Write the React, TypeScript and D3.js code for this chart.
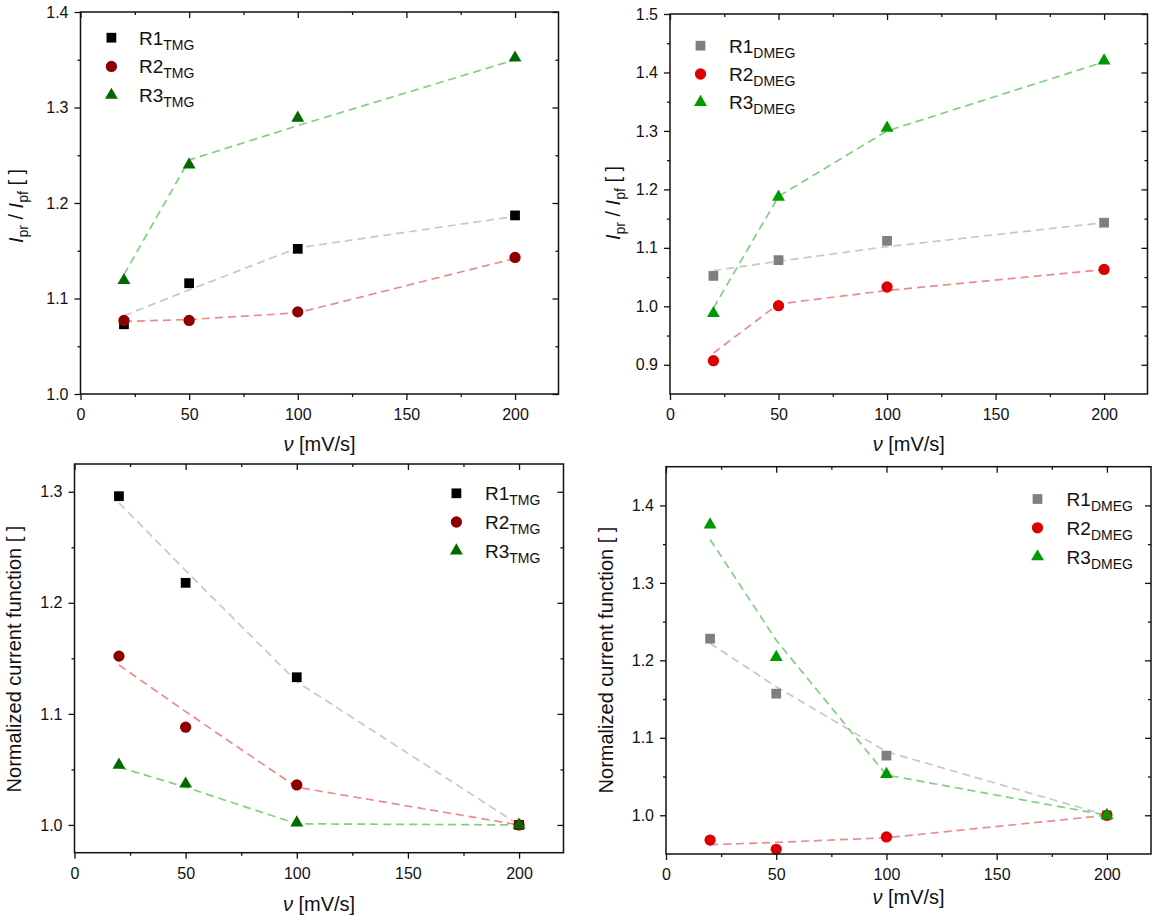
import { useEffect, useRef } from "react";
import * as d3 from "d3";

// Velocidades de varredura (mV/s)
const scanRates = [20, 50, 100, 200];
const xTicks = [0, 50, 100, 150, 200];
const xMinorTicks = [25, 75, 125, 175];

// Ipr / Ipf  - TMG
const ratioTmgR1 = [1.073, 1.116, 1.152, 1.187];
const ratioTmgR2 = [1.077, 1.077, 1.086, 1.143];
const ratioTmgR3 = [1.119, 1.240, 1.289, 1.352];
const ratioTmgFitR1 = [1.082, 1.109, 1.153, 1.186];
const ratioTmgFitR2 = [1.076, 1.078, 1.085, 1.142];
const ratioTmgFitR3 = [1.125, 1.245, 1.281, 1.350];

// Ipr / Ipf  - DMEG
const ratioDmegR1 = [1.052, 1.079, 1.112, 1.143];
const ratioDmegR2 = [0.907, 1.001, 1.033, 1.063];
const ratioDmegR3 = [0.988, 1.187, 1.305, 1.420];
const ratioDmegFitR1 = [1.061, 1.077, 1.102, 1.143];
const ratioDmegFitR2 = [0.920, 1.004, 1.027, 1.063];
const ratioDmegFitR3 = [0.997, 1.188, 1.300, 1.418];

// Normalized current function - TMG
const normTmgR1 = [1.296, 1.218, 1.133, 1.0];
const normTmgR2 = [1.152, 1.088, 1.036, 1.0];
const normTmgR3 = [1.054, 1.037, 1.002, 1.0];
const normTmgFitR1 = [1.290, 1.229, 1.129, 1.0];
const normTmgFitR2 = [1.144, 1.102, 1.034, 1.0];
const normTmgFitR3 = [1.052, 1.034, 1.001, 1.0];

// Normalized current function - DMEG
const normDmegR1 = [1.228, 1.157, 1.077, 1.0];
const normDmegR2 = [0.968, 0.956, 0.972, 1.0];
const normDmegR3 = [1.375, 1.204, 1.053, 1.0];
const normDmegFitR1 = [1.222, 1.166, 1.082, 1.0];
const normDmegFitR2 = [0.962, 0.965, 0.971, 1.0];
const normDmegFitR3 = [1.356, 1.226, 1.052, 1.0];

type Shape = "square" | "circle" | "triangle";

interface Serie {
  name: string;
  sub: string;
  values: number[];
  fit: number[];
  shape: Shape;
  color: string;
  lineColor: string;
}

interface Painel {
  left: number;
  right: number;
  top: number;
  bottom: number;
  yDomain: [number, number];
  yMajor: number[];
  yMinor: number[];
  yTitle: "ratio" | "norm";
  yTitleX: number;
  yTitleY: number;
  xTitleY: number;
  legendX: number;
  legendY: number;
  legendStep: number;
  legendTextX: number;
  series: Serie[];
}

const TMG_COLORS = ["#000000", "#8c0000", "#006a00"];
const DMEG_COLORS = ["#7f7f7f", "#dd0000", "#009a00"];
const LINE_COLORS = ["#c8c8c8", "#f08a8a", "#80d080"];
const SHAPES: Shape[] = ["square", "circle", "triangle"];

const makeSeries = (sub: string, colors: string[], vals: number[][], fits: number[][]): Serie[] =>
  vals.map((v, i) => ({
    name: `R${i + 1}`,
    sub,
    values: v,
    fit: fits[i],
    shape: SHAPES[i],
    color: colors[i],
    lineColor: LINE_COLORS[i]
  }));

const painels: Painel[] = [
  {
    left: 80.5, right: 558.5, top: 12, bottom: 394,
    yDomain: [1.0, 1.4],
    yMajor: [1.0, 1.1, 1.2, 1.3, 1.4],
    yMinor: [1.05, 1.15, 1.25, 1.35],
    yTitle: "ratio", yTitleX: 23, yTitleY: 206, xTitleY: 451,
    legendX: 111.4, legendY: 37.7, legendStep: 28.7, legendTextX: 139,
    series: makeSeries("TMG", TMG_COLORS,
      [ratioTmgR1, ratioTmgR2, ratioTmgR3],
      [ratioTmgFitR1, ratioTmgFitR2, ratioTmgFitR3])
  },
  {
    left: 670, right: 1147.5, top: 14, bottom: 394,
    yDomain: [0.85, 1.5],
    yMajor: [0.9, 1.0, 1.1, 1.2, 1.3, 1.4, 1.5],
    yMinor: [0.95, 1.05, 1.15, 1.25, 1.35, 1.45],
    yTitle: "ratio", yTitleX: 620, yTitleY: 203, xTitleY: 451,
    legendX: 700.5, legendY: 45.7, legendStep: 28.3, legendTextX: 729,
    series: makeSeries("DMEG", DMEG_COLORS,
      [ratioDmegR1, ratioDmegR2, ratioDmegR3],
      [ratioDmegFitR1, ratioDmegFitR2, ratioDmegFitR3])
  },
  {
    left: 74.5, right: 563.5, top: 464, bottom: 852.7,
    yDomain: [0.975, 1.325],
    yMajor: [1.0, 1.1, 1.2, 1.3],
    yMinor: [1.05, 1.15, 1.25],
    yTitle: "norm", yTitleX: 21, yTitleY: 659, xTitleY: 911,
    legendX: 456.4, legendY: 493.3, legendStep: 28.7, legendTextX: 485,
    series: makeSeries("TMG", TMG_COLORS,
      [normTmgR1, normTmgR2, normTmgR3],
      [normTmgFitR1, normTmgFitR2, normTmgFitR3])
  },
  {
    left: 666, right: 1151, top: 466.7, bottom: 854,
    yDomain: [0.95, 1.45],
    yMajor: [1.0, 1.1, 1.2, 1.3, 1.4],
    yMinor: [1.05, 1.15, 1.25, 1.35],
    yTitle: "norm", yTitleX: 613, yTitleY: 660, xTitleY: 904,
    legendX: 1037.5, legendY: 499, legendStep: 28.8, legendTextX: 1066.6,
    series: makeSeries("DMEG", DMEG_COLORS,
      [normDmegR1, normDmegR2, normDmegR3],
      [normDmegFitR1, normDmegFitR2, normDmegFitR3])
  }
];

const FONT = "'Liberation Sans', Arial, Helvetica, sans-serif";
const WIDTH = 1157;
const HEIGHT = 921;

const symbolFor = (shape: Shape) => {
  if (shape === "square") return d3.symbol().type(d3.symbolSquare).size(95)();
  if (shape === "circle") return d3.symbol().type(d3.symbolCircle).size(100)();
  return d3.symbol().type(d3.symbolTriangle).size(72)();
};

const App = () => {
  const svgRef = useRef<SVGSVGElement>(null);

  useEffect(() => {
    if (!svgRef.current) return;
    const svg = d3.select(svgRef.current);
    svg.selectAll("*").remove();

    svg.append("rect").attr("width", WIDTH).attr("height", HEIGHT).attr("fill", "#fff");

    painels.forEach((p) => {
      const x = d3.scaleLinear().domain([0, 220]).range([p.left, p.right]);
      const y = d3.scaleLinear().domain(p.yDomain).range([p.bottom, p.top]);
      const g = svg.append("g");

      // linhas tracejadas
      const line = d3
        .line<number>()
        .x((_, i) => x(scanRates[i]))
        .y((d) => y(d));

      p.series.forEach((s) => {
        g.append("path")
          .datum(s.fit)
          .attr("fill", "none")
          .attr("stroke", s.lineColor)
          .attr("stroke-width", 1.7)
          .attr("stroke-dasharray", "8,5")
          .attr("d", line);
      });

      // pontos
      p.series.forEach((s) => {
        g.selectAll(null)
          .data(s.values)
          .enter()
          .append("path")
          .attr("d", symbolFor(s.shape))
          .attr("transform", (d, i) => `translate(${x(scanRates[i])},${y(d)})`)
          .attr("fill", s.color);
      });

      // eixos
      const styleAxis = (sel: d3.Selection<SVGGElement, unknown, null, undefined>) => {
        sel.select(".domain").remove();
        sel.selectAll("line").attr("stroke", "#111").attr("stroke-width", 1.3);
        sel.selectAll("text")
          .attr("fill", "#111")
          .style("font-family", FONT)
          .style("font-size", "16px");
      };

      g.append("g")
        .attr("transform", `translate(0,${p.bottom})`)
        .call(d3.axisBottom(x).tickValues(xTicks).tickSize(6).tickPadding(8.5).tickFormat(d3.format("d")))
        .call(styleAxis);
      g.append("g")
        .attr("transform", `translate(0,${p.bottom})`)
        .call(d3.axisBottom(x).tickValues(xMinorTicks).tickSize(3).tickFormat(() => ""))
        .call(styleAxis);
      g.append("g")
        .attr("transform", `translate(0,${p.top})`)
        .call(d3.axisTop(x).tickValues(xTicks).tickSize(-6).tickFormat(() => ""))
        .call(styleAxis);
      g.append("g")
        .attr("transform", `translate(0,${p.top})`)
        .call(d3.axisTop(x).tickValues(xMinorTicks).tickSize(-3).tickFormat(() => ""))
        .call(styleAxis);

      g.append("g")
        .attr("transform", `translate(${p.left},0)`)
        .call(d3.axisLeft(y).tickValues(p.yMajor).tickSize(6).tickPadding(6).tickFormat(d3.format(".1f")))
        .call(styleAxis);
      g.append("g")
        .attr("transform", `translate(${p.left},0)`)
        .call(d3.axisLeft(y).tickValues(p.yMinor).tickSize(3).tickFormat(() => ""))
        .call(styleAxis);
      g.append("g")
        .attr("transform", `translate(${p.right},0)`)
        .call(d3.axisRight(y).tickValues(p.yMajor).tickSize(-6).tickFormat(() => ""))
        .call(styleAxis);
      g.append("g")
        .attr("transform", `translate(${p.right},0)`)
        .call(d3.axisRight(y).tickValues(p.yMinor).tickSize(-3).tickFormat(() => ""))
        .call(styleAxis);

      // moldura
      g.append("rect")
        .attr("x", p.left)
        .attr("y", p.top)
        .attr("width", p.right - p.left)
        .attr("height", p.bottom - p.top)
        .attr("fill", "none")
        .attr("stroke", "#111")
        .attr("stroke-width", 1.5);

      // título do eixo X
      const xt = g.append("text")
        .attr("x", (p.left + p.right) / 2)
        .attr("y", p.xTitleY)
        .attr("text-anchor", "middle")
        .style("font-family", FONT)
        .style("font-size", "20px")
        .attr("fill", "#111");
      xt.append("tspan").style("font-style", "italic").text("ν");
      xt.append("tspan").text(" [mV/s]");

      // título do eixo Y
      const yt = g.append("text")
        .attr("transform", `translate(${p.yTitleX},${p.yTitleY}) rotate(-90)`)
        .attr("text-anchor", "middle")
        .style("font-family", FONT)
        .style("font-size", "20px")
        .attr("fill", "#111");
      if (p.yTitle === "norm") {
        yt.text("Normalized current function [ ]");
      } else {
        yt.append("tspan").style("font-style", "italic").text("I");
        yt.append("tspan").attr("dy", 5).style("font-size", "14px").text("pr");
        yt.append("tspan").attr("dy", -5).text(" / ");
        yt.append("tspan").style("font-style", "italic").text("I");
        yt.append("tspan").attr("dy", 5).style("font-size", "14px").text("pf");
        yt.append("tspan").attr("dy", -5).text(" [ ]");
      }

      // legenda
      p.series.forEach((s, i) => {
        const ly = p.legendY + i * p.legendStep;
        g.append("path")
          .attr("d", symbolFor(s.shape))
          .attr("transform", `translate(${p.legendX},${ly})`)
          .attr("fill", s.color);
        const lt = g.append("text")
          .attr("x", p.legendTextX)
          .attr("y", ly + 7)
          .style("font-family", FONT)
          .style("font-size", "19px")
          .attr("fill", "#111");
        lt.append("tspan").text(s.name);
        lt.append("tspan").attr("dy", 5).style("font-size", "14px").text(s.sub);
      });
    });
  }, []);

  return (
    <div style={{ position: "absolute", left: 0, top: 0 }}>
      <svg ref={svgRef} width={WIDTH} height={HEIGHT} viewBox={`0 0 ${WIDTH} ${HEIGHT}`} />
    </div>
  );
};

export default App;
